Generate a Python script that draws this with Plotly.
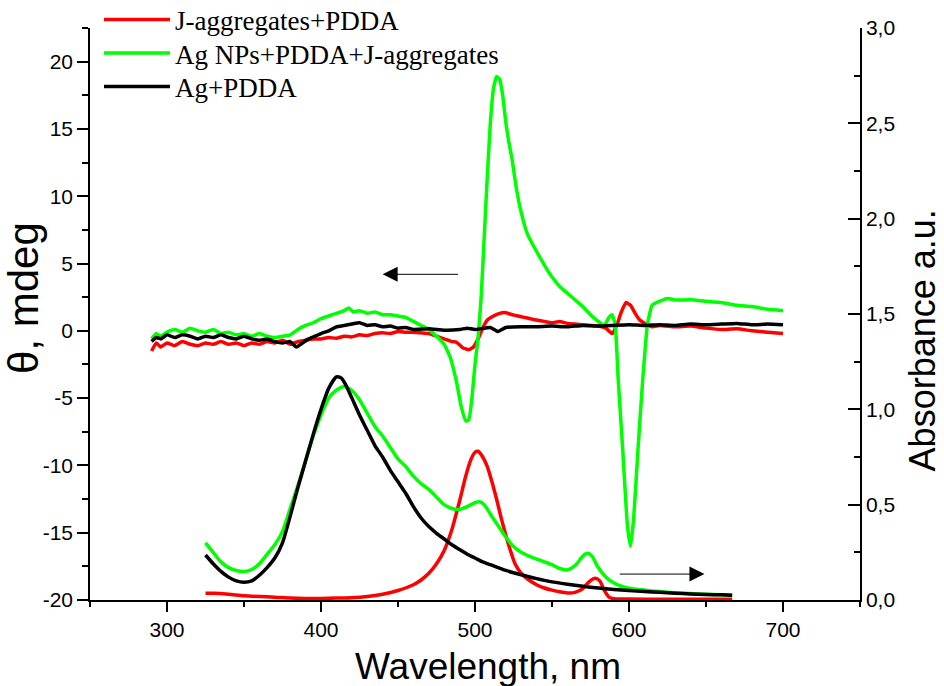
import plotly.graph_objects as go

# ---------------- CD data (left axis, theta mdeg) ----------------
red_cd_x = [290, 293, 296, 300, 305, 310, 315, 320, 325, 330, 335, 340, 345, 350, 355, 360, 365, 370, 375, 380,
            385, 390, 395, 400, 405, 410, 415, 420, 425, 430, 435, 440, 445, 450, 455, 460, 465, 470, 475, 480,
            485, 488, 492, 496, 499, 502, 505, 508, 512, 516, 520, 524, 528, 532, 536, 540, 545, 550, 555, 560,
            565, 570, 575, 580, 585, 589, 592, 595, 598, 601, 604, 607, 611, 615, 620, 630, 640, 650, 660, 670,
            680, 690, 700]
red_cd_y = [-1.5, -0.9, -1.2, -0.9, -1.1, -0.8, -1.0, -1.1, -0.9, -1.0, -0.8, -1.0, -0.9, -1.1, -0.9, -1.0, -0.8, -0.9, -0.7, -1.0,
            -0.8, -0.7, -0.6, -0.6, -0.5, -0.55, -0.4, -0.45, -0.3, -0.35, -0.2, -0.15, -0.2, -0.05, -0.1, -0.1, -0.15, -0.2, -0.4, -0.6,
            -0.8, -0.85, -1.25, -1.4, -1.2, -0.6, 0.2, 0.8, 1.1, 1.3, 1.35, 1.2, 1.1, 1.0, 0.9, 0.8, 0.7, 0.6, 0.7, 0.55,
            0.5, 0.45, 0.4, 0.35, 0.2, -0.2, 0.4, 1.4, 2.1, 1.9, 1.3, 0.8, 0.5, 0.3, 0.4, 0.3, 0.35, 0.2, 0.1, 0.15,
            0.0, -0.1, -0.2]

green_cd_x = [290, 293, 296, 300, 305, 310, 315, 320, 325, 330, 335, 340, 345, 350, 355, 360, 365, 370, 375, 380,
              385, 390, 395, 400, 405, 410, 415, 418, 421, 425, 430, 435, 440, 445, 450, 455, 460, 465, 470, 475,
              480, 484, 488, 491, 494, 496, 498, 500, 502, 504, 506, 508, 510, 512, 514, 516, 518, 520, 522, 524,
              527, 530, 534, 538, 542, 546, 550, 555, 560, 565, 570, 575, 580, 584, 587, 589, 591, 593, 596, 599,
              601, 603, 606, 609, 612, 615, 620, 625, 630, 640, 650, 660, 670, 680, 690, 700]
green_cd_y = [-0.6, -0.2, -0.4, -0.1, 0.1, -0.1, 0.2, 0.0, -0.1, 0.1, -0.2, -0.1, -0.3, -0.2, -0.4, -0.2, -0.4, -0.5, -0.4, -0.3,
              0.1, 0.4, 0.6, 0.9, 1.1, 1.3, 1.5, 1.7, 1.4, 1.5, 1.3, 1.4, 1.2, 1.2, 1.1, 1.0, 0.7, 0.4, 0.1, -0.4,
              -1.0, -2.0, -3.8, -5.6, -6.7, -6.6, -5.0, -2.5, -0.5, 2.5, 7.0, 11.5, 15.5, 18.0, 18.9, 18.7, 17.5, 15.5, 14.0, 12.8,
              10.5, 8.8, 7.2, 6.3, 5.5, 4.7, 4.0, 3.3, 2.8, 2.3, 1.8, 1.2, 0.7, 0.4, 1.0, 1.2, 0.5, -3.6, -9.0, -14.5,
              -16.0, -14.0, -8.5, -3.5, 0.5, 1.9, 2.2, 2.4, 2.3, 2.3, 2.2, 2.1, 1.9, 1.8, 1.6, 1.5]

black_cd_x = [290, 293, 296, 300, 305, 310, 315, 320, 325, 330, 335, 340, 345, 350, 355, 360, 365, 370, 375, 380,
              384, 388, 392, 396, 400, 405, 410, 415, 420, 425, 430, 435, 440, 445, 450, 455, 460, 470, 480, 490,
              495, 500, 510, 515, 520, 530, 540, 550, 560, 570, 580, 590, 600, 610, 620, 630, 640, 650, 660, 670,
              680, 690, 700]
black_cd_y = [-0.8, -0.5, -0.6, -0.3, -0.5, -0.3, -0.4, -0.6, -0.4, -0.5, -0.3, -0.5, -0.6, -0.4, -0.6, -0.7, -0.6, -0.8, -0.9, -0.8,
              -1.2, -0.9, -0.6, -0.4, -0.2, 0.0, 0.3, 0.4, 0.5, 0.6, 0.4, 0.45, 0.3, 0.35, 0.2, 0.25, 0.1, 0.15, 0.05, 0.1,
              0.2, 0.1, 0.25, -0.05, 0.25, 0.3, 0.3, 0.35, 0.3, 0.4, 0.35, 0.4, 0.45, 0.4, 0.45, 0.4, 0.5, 0.45, 0.5, 0.55,
              0.45, 0.5, 0.45]

# ---------------- Absorbance data (right axis) ----------------
black_abs_x = [325, 330, 335, 340, 345, 350, 355, 360, 365, 370, 375, 380, 385, 390, 395, 400, 405, 410, 413, 416,
               420, 425, 430, 435, 440, 445, 450, 455, 460, 465, 470, 475, 480, 485, 490, 495, 500, 505, 510, 515,
               520, 525, 530, 535, 540, 545, 550, 560, 570, 580, 590, 600, 610, 620, 630, 640, 650, 660, 667]
black_abs_y = [0.236, 0.19, 0.15, 0.12, 0.10, 0.093, 0.10, 0.13, 0.17, 0.22, 0.30, 0.44, 0.59, 0.73, 0.87, 1.00, 1.11, 1.17, 1.165, 1.13,
               1.06, 0.97, 0.89, 0.81, 0.75, 0.68, 0.62, 0.56, 0.49, 0.43, 0.385, 0.35, 0.32, 0.29, 0.265, 0.24, 0.22, 0.20, 0.185, 0.17,
               0.155, 0.143, 0.132, 0.122, 0.112, 0.103, 0.095, 0.083, 0.072, 0.063, 0.055, 0.05, 0.045, 0.04, 0.036, 0.032, 0.029, 0.027, 0.025]

green_abs_x = [325, 330, 335, 340, 345, 350, 355, 360, 365, 370, 375, 380, 385, 390, 395, 400, 405, 410, 415, 420,
               425, 430, 435, 440, 445, 450, 455, 460, 465, 470, 475, 480, 485, 490, 495, 500, 503, 506, 510, 515,
               520, 525, 530, 535, 540, 545, 550, 555, 560, 565, 570, 573, 576, 580, 585, 590, 595, 600, 610, 620,
               630, 640, 650, 660, 667]
green_abs_y = [0.30, 0.25, 0.20, 0.17, 0.155, 0.15, 0.16, 0.19, 0.24, 0.29, 0.36, 0.48, 0.60, 0.73, 0.86, 0.97, 1.06, 1.10, 1.12, 1.10,
               1.05, 0.98, 0.91, 0.86, 0.80, 0.74, 0.70, 0.65, 0.61, 0.58, 0.54, 0.50, 0.48, 0.475, 0.49, 0.51, 0.515, 0.50, 0.45, 0.39,
               0.33, 0.28, 0.25, 0.23, 0.215, 0.20, 0.185, 0.165, 0.158, 0.18, 0.23, 0.245, 0.23, 0.17, 0.12, 0.09, 0.072, 0.062, 0.052, 0.044,
               0.038, 0.034, 0.030, 0.027, 0.025]

red_abs_x = [325, 330, 340, 350, 360, 370, 380, 390, 400, 410, 420, 430, 440, 450, 460, 465, 470, 475, 480, 485,
             490, 494, 497, 500, 502, 505, 508, 511, 514, 517, 520, 523, 526, 530, 535, 540, 545, 550, 555, 560,
             565, 570, 574, 578, 581, 584, 587, 590, 600, 620, 640, 667]
red_abs_y = [0.035, 0.035, 0.03, 0.022, 0.018, 0.015, 0.01, 0.008, 0.008, 0.01, 0.012, 0.018, 0.03, 0.05, 0.08, 0.105, 0.14, 0.19, 0.26, 0.37,
             0.52, 0.65, 0.73, 0.775, 0.78, 0.75, 0.70, 0.62, 0.53, 0.43, 0.34, 0.26, 0.19, 0.14, 0.105, 0.08, 0.063, 0.052, 0.043, 0.037,
             0.04, 0.06, 0.095, 0.114, 0.10, 0.05, 0.015, 0.007, 0.005, 0.004, 0.004, 0.004]

series_names = ["J-aggregates+PDDA", "Ag NPs+PDDA+J-aggregates", "Ag+PDDA"]
series_colors = ["#FF0000", "#00FF00", "#000000"]
legend_ids = ["legend", "legend2", "legend3"]

left_tickvals = [-20, -15, -10, -5, 0, 5, 10, 15, 20]
left_ticktext = ["-20", "-15", "-10", "-5", "0", "5", "10", "15", "20"]
right_tickvals = [0.0, 0.5, 1.0, 1.5, 2.0, 2.5, 3.0]
right_ticktext = ["0,0", "0,5", "1,0", "1,5", "2,0", "2,5", "3,0"]
x_tickvals = [300, 400, 500, 600, 700]

x_title = "Wavelength, nm"
left_title = "θ, mdeg"
right_title = "Absorbance a.u."

LW = 3.5
fig = go.Figure()

cd_sets = [(red_cd_x, red_cd_y), (green_cd_x, green_cd_y), (black_cd_x, black_cd_y)]
abs_sets = [(red_abs_x, red_abs_y), (green_abs_x, green_abs_y), (black_abs_x, black_abs_y)]

for (ax_, ay_), name, col in zip(abs_sets, series_names, series_colors):
    fig.add_trace(go.Scatter(x=ax_, y=ay_, mode="lines", name=name, yaxis="y2",
                             line=dict(color=col, width=LW, shape="spline", smoothing=0.6),
                             showlegend=False))
for (cx, cy), name, col, lg in zip(cd_sets, series_names, series_colors, legend_ids):
    fig.add_trace(go.Scatter(x=cx, y=cy, mode="lines", name=name, yaxis="y", legend=lg,
                             line=dict(color=col, width=LW, shape="spline", smoothing=0.4),
                             showlegend=True))

tick_font = dict(family="Liberation Sans, Arial", size=21, color="black")
legend_font = dict(family="Liberation Serif, Times New Roman", size=27, color="black")

legend_common = dict(x=0.0117, xanchor="left", yanchor="middle", font=legend_font,
                     bgcolor="rgba(0,0,0,0)", itemwidth=66)

fig.update_layout(
    width=944, height=686,
    margin=dict(l=90, r=84, t=28, b=86, autoexpand=False),
    paper_bgcolor="white", plot_bgcolor="white",
    showlegend=True,
    legend=dict(y=1.014, **legend_common),
    legend2=dict(y=0.9554, **legend_common),
    legend3=dict(y=0.8969, **legend_common),
    xaxis=dict(range=[250, 750], tickvals=x_tickvals, ticks="outside", ticklen=10, tickwidth=1.5,
               tickcolor="black", showline=True, linecolor="black", linewidth=1.5, mirror=False,
               showgrid=False, zeroline=False, tickfont=tick_font, automargin=False,
               minor=dict(dtick=50, tick0=250, ticks="outside", ticklen=5, tickwidth=1.5, tickcolor="black", showgrid=False)),
    yaxis=dict(range=[-20, 22.5], tickvals=left_tickvals, ticktext=left_ticktext, ticks="outside", ticklen=11,
               tickwidth=1.5, tickcolor="black", showline=True, linecolor="black", linewidth=1.5,
               showgrid=False, zeroline=False, tickfont=tick_font, automargin=False,
               minor=dict(dtick=2.5, tick0=0, ticks="outside", ticklen=6, tickwidth=1.5, tickcolor="black", showgrid=False)),
    yaxis2=dict(range=[0, 3], overlaying="y", side="right", tickvals=right_tickvals, ticktext=right_ticktext,
                ticks="inside", ticklen=12, tickwidth=1.5, tickcolor="black", showline=True, linecolor="black",
                linewidth=1.5, showgrid=False, zeroline=False, tickfont=tick_font, automargin=False,
                minor=dict(dtick=0.25, tick0=0, ticks="inside", ticklen=6, tickwidth=1.5, tickcolor="black", showgrid=False)),
)

# axis titles placed as text annotations
fig.add_annotation(text=x_title, xref="paper", yref="paper", x=0.517, y=-0.116, xanchor="center",
                   yanchor="middle", showarrow=False,
                   font=dict(family="Liberation Sans, Arial", size=37, color="black"))
fig.add_annotation(text=left_title, xref="paper", yref="paper", x=-0.0857, y=0.528, xanchor="center",
                   yanchor="middle", textangle=-90, showarrow=False,
                   font=dict(family="Liberation Sans, Arial", size=42, color="black"))
fig.add_annotation(text=right_title, xref="paper", yref="paper", x=1.0812, y=0.453, xanchor="center",
                   yanchor="middle", textangle=-90, showarrow=False,
                   font=dict(family="Liberation Sans, Arial", size=36, color="black"))

# direction arrows
fig.add_annotation(x=440, y=4.2, xref="x", yref="y", ax=490, ay=4.2, axref="x", ayref="y",
                   text="", showarrow=True, arrowhead=2, arrowsize=3, arrowwidth=1, arrowcolor="black")
fig.add_annotation(x=649, y=0.136, xref="x", yref="y2", ax=593, ay=0.136, axref="x", ayref="y2",
                   text="", showarrow=True, arrowhead=2, arrowsize=3, arrowwidth=1, arrowcolor="black")

fig.write_html("out.html", config={"displayModeBar": False},
               post_script="document.body.style.margin='0px'; document.body.style.overflow='hidden';")
